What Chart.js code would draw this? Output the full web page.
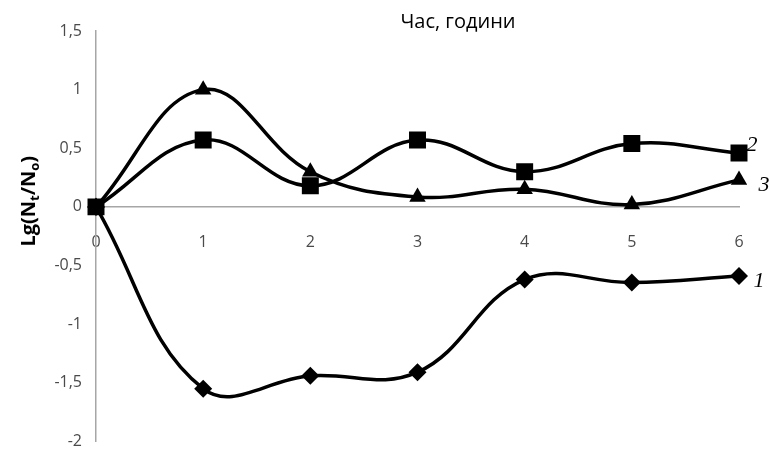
<!DOCTYPE html>
<html>
<head>
<meta charset="utf-8">
<script src="https://cdn.jsdelivr.net/npm/chart.js@4"></script>
<style>
  html, body { margin: 0; padding: 0; background: #fff; overflow: hidden; }
  #wrap { width: 770px; height: 465px; }
</style>
</head>
<body>
<div id="wrap"><canvas id="grafik"></canvas></div>
<script>
// Час, години -> Lg(Nt/No)
const hours = ["0", "1", "2", "3", "4", "5", "6"];
const series1 = [0, -1.55, -1.44, -1.41, -0.62, -0.645, -0.59];
const series2 = [0, 0.57, 0.18, 0.57, 0.30, 0.54, 0.46];
const series3 = [0, 1.0, 0.30, 0.085, 0.15, 0.02, 0.23];
const seriesNames = ["1", "2", "3"];
const yMin = -2, yMax = 1.5, yStep = 0.5;

const tickFont = { family: "'Open Sans', sans-serif", size: 16 };
const tickColor = "#4a4a4a";
const axisColor = "#a6a6a6";

// подписи: заголовок, ось Y, номера кривых
const annotations = {
    id: "annotations",
    afterDraw(chart) {
        const ctx = chart.ctx;
        const area = chart.chartArea;
        ctx.save();
        ctx.fillStyle = "#000";

        // заголовок
        ctx.font = "20px 'Open Sans', sans-serif";
        ctx.textAlign = "center";
        ctx.textBaseline = "middle";
        ctx.fillText("Час, години", 458, 22);

        // подпись оси Y с индексами
        const parts = [
            ["Lg(N", false], ["t", true], ["/N", false], ["o", true], [")", false]
        ];
        const big = "bold 20px 'Open Sans', sans-serif";
        const small = "bold 13px 'Open Sans', sans-serif";
        let total = 0;
        parts.forEach(([t, sub]) => { ctx.font = sub ? small : big; total += ctx.measureText(t).width; });
        ctx.translate(28, (area.top + area.bottom) / 2 - 35);
        ctx.rotate(-Math.PI / 2);
        ctx.textAlign = "left";
        ctx.textBaseline = "alphabetic";
        let x = -total / 2;
        parts.forEach(([t, sub]) => {
            ctx.font = sub ? small : big;
            ctx.fillText(t, x, sub ? 11 : 7);
            x += ctx.measureText(t).width;
        });
        ctx.setTransform(1, 0, 0, 1, 0, 0);

        // номера кривых у последней точки
        const offsets = [[20, 5], [13, -8], [25, 5]];
        ctx.font = "italic 22px 'Liberation Serif', serif";
        ctx.textAlign = "center";
        ctx.textBaseline = "middle";
        chart.data.datasets.forEach((ds, i) => {
            const pts = chart.getDatasetMeta(i).data;
            const p = pts[pts.length - 1];
            ctx.fillText(seriesNames[i], p.x + offsets[i][0], p.y + offsets[i][1]);
        });
        ctx.restore();
    }
};

const lineStyle = {
    borderColor: "#000",
    backgroundColor: "#000",
    borderWidth: 3.5,
    tension: 0.4,
    pointBorderWidth: 0,
    pointHoverRadius: 0
};

new Chart(document.getElementById("grafik"), {
    type: "line",
    data: {
        labels: hours,
        datasets: [
            { ...lineStyle, label: seriesNames[0], data: series1, pointStyle: "rectRot", pointRadius: 9 },
            { ...lineStyle, label: seriesNames[1], data: series2, pointStyle: "rect", pointRadius: 12 },
            { ...lineStyle, label: seriesNames[2], data: series3, pointStyle: "triangle", pointRadius: 9.5 }
        ]
    },
    options: {
        responsive: true, maintainAspectRatio: false,
        animation: false,
        layout: { padding: { top: 31, right: 31, bottom: 0, left: 0 } },
        plugins: { legend: { display: false }, tooltip: { enabled: false } },
        scales: {
            x: {
                position: { y: 0 },
                offset: false,
                grid: { display: false, drawTicks: false },
                border: { color: axisColor, width: 1.5 },
                ticks: { color: tickColor, font: tickFont, padding: 26, maxRotation: 0 },
                afterFit(scale) { scale.height = 0; }
            },
            y: {
                min: yMin, max: yMax,
                grid: { display: false, drawTicks: false },
                border: { color: axisColor, width: 1.5 },
                ticks: {
                    stepSize: yStep,
                    color: tickColor, font: tickFont, padding: 14,
                    callback: v => String(v).replace(".", ",")
                },
                afterFit(scale) { scale.width = 96; }
            }
        }
    },
    plugins: [annotations]
});
</script>
</body>
</html>
